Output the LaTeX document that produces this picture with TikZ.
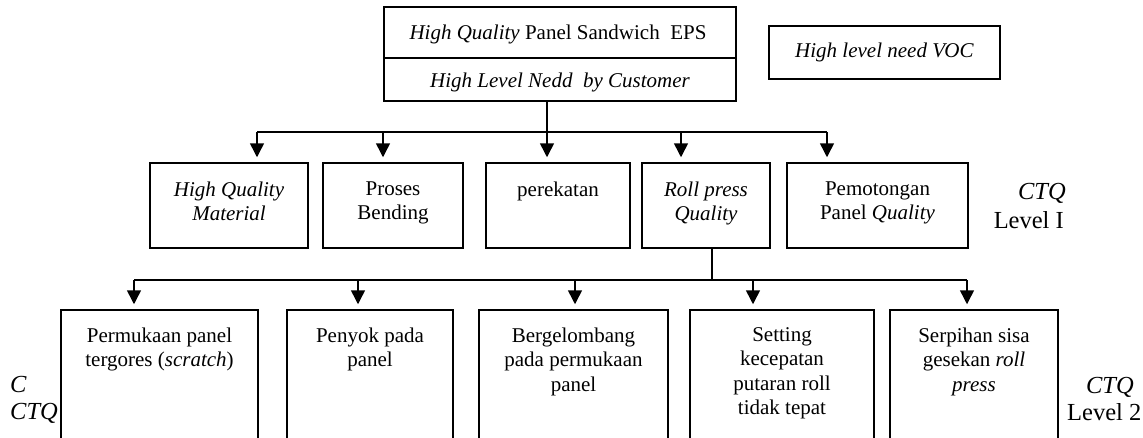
\documentclass[tikz,border=0pt]{standalone}
\usepackage{fontspec}
\setmainfont{Liberation Serif}
\usetikzlibrary{arrows.meta}
\begin{document}
\begin{tikzpicture}[x=1pt,y=-1pt,
 box/.style={draw, line width=1.5pt, inner sep=0pt},
 txt/.style={font=\fontsize{21}{24.5}\selectfont, align=center, inner sep=0pt},
 lbl/.style={font=\fontsize{24.5}{28}\selectfont, inner sep=0pt},
 wire/.style={line width=1.5pt},
 arr/.style={line width=1.5pt, -{Triangle[width=14pt,length=14pt]}, shorten >=5pt}]
\useasboundingbox (0,0) rectangle (1143,437);
\clip (0,0) rectangle (1143,437);

% top
\node[box, minimum width=352pt, minimum height=51pt] (T1) at (560,32.5) {};
\node[box, minimum width=352pt, minimum height=43pt] (T2) at (560,79.5) {};
\node[txt] (tT1) at (558,34.5) {\textit{High Quality} Panel Sandwich~ EPS};
\node[txt] (tT2) at (560,82.5) {\textit{High Level Nedd~ by Customer}};
\node[box, txt, minimum width=231pt, minimum height=53pt] (V) at (884.5,52.5) {\textit{High level need VOC}};

% level 1 boxes
\node[box, minimum width=158pt, minimum height=85pt] (A1) at (229,205.5) {};
\node[box, minimum width=140pt, minimum height=85pt] (A2) at (393,205.5) {};
\node[box, minimum width=144pt, minimum height=85pt] (A3) at (558,205.5) {};
\node[box, minimum width=128pt, minimum height=85pt] (A4) at (706,205.5) {};
\node[box, minimum width=181pt, minimum height=85pt] (A5) at (877.5,205.5) {};
\node[txt, anchor=north] (tA1) at ([yshift=-19pt]A1.north) {\textit{High Quality}\\\textit{Material}};
\node[txt, anchor=north] (tA2) at ([yshift=-19pt]A2.north) {Proses\\Bending};
\node[txt, anchor=north] (tA3) at ([yshift=-19pt]A3.north) {perekatan};
\node[txt, anchor=north] (tA4) at ([yshift=-19pt]A4.north) {\textit{Roll press}\\\textit{Quality}};
\node[txt, anchor=north] (tA5) at ([yshift=-19pt]A5.north) {Pemotongan\\Panel \textit{Quality}};

% level 2 boxes
\node[box, minimum width=197pt, minimum height=150pt] (B1) at (159.5,385) {};
\node[box, minimum width=166pt, minimum height=150pt] (B2) at (370,385) {};
\node[box, minimum width=189pt, minimum height=150pt] (B3) at (573.5,385) {};
\node[box, minimum width=184pt, minimum height=150pt] (B4) at (782,385) {};
\node[box, minimum width=168pt, minimum height=150pt] (B5) at (974,385) {};
\node[txt, anchor=north] (tB1) at ([yshift=-18pt]B1.north) {Permukaan panel\\tergores (\textit{scratch})};
\node[txt, anchor=north] (tB2) at ([yshift=-18pt]B2.north) {Penyok pada\\panel};
\node[txt, anchor=north] (tB3) at ([yshift=-18pt]B3.north) {Bergelombang\\pada permukaan\\panel};
\node[txt, anchor=north] (tB4) at ([yshift=-18pt]B4.north) {Setting\\kecepatan\\putaran roll\\tidak tepat};
\node[txt, anchor=north] (tB5) at ([yshift=-18pt]B5.north) {Serpihan sisa\\gesekan \textit{roll}\\\textit{press}};

% side labels
\node[lbl, anchor=base east] (c1a) at (1066,199) {\textit{CTQ}};
\node[lbl, anchor=base east] (c1b) at (1064,228) {Level I};
\node[lbl, anchor=base east] (c2a) at (1134,393) {\textit{CTQ}};
\node[lbl, anchor=base west] (c2b) at (1067,420) {Level 2};
\node[lbl, anchor=base west] (cl1) at (10,392) {\textit{C}};
\node[lbl, anchor=base west] (cl2) at (10,419) {\textit{CTQ}};

% connectors level 1
\coordinate (b1) at (547,132);
\coordinate (b1l) at (257,132);
\coordinate (b1a) at (383,132);
\coordinate (b1b) at (681,132);
\coordinate (b1r) at (827,132);
\draw[wire] (T2.south -| b1) -- (b1);
\draw[wire] (b1l) -- (b1r);
\draw[arr] (b1l) -- (b1l |- A1.north);
\draw[arr] (b1a) -- (b1a |- A2.north);
\draw[arr] (b1) -- (b1 |- A3.north);
\draw[arr] (b1b) -- (b1b |- A4.north);
\draw[arr] (b1r) -- (b1r |- A5.north);

% connectors level 2
\coordinate (c0) at (712,280);
\coordinate (c1) at (134,280);
\coordinate (c2) at (358,280);
\coordinate (c3) at (575,280);
\coordinate (c4) at (753,280);
\coordinate (c5) at (967,280);
\draw[wire] (A4.south -| c0) -- (c0);
\draw[wire] (c1) -- (c5);
\draw[arr] (c1) -- (c1 |- B1.north);
\draw[arr] (c2) -- (c2 |- B2.north);
\draw[arr] (c3) -- (c3 |- B3.north);
\draw[arr] (c4) -- (c4 |- B4.north);
\draw[arr] (c5) -- (c5 |- B5.north);
\end{tikzpicture}
\end{document}
